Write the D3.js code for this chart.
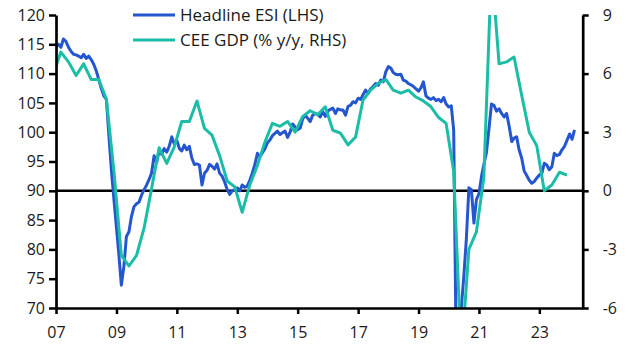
<!DOCTYPE html>
<html><head><meta charset="utf-8">
<script src="https://cdn.jsdelivr.net/npm/d3@7"></script>
<style>
html,body{margin:0;padding:0;background:#fff;}
svg{display:block;font-family:"Open Sans","Noto Sans",sans-serif;}
</style></head>
<body>
<svg id="c" width="628" height="352"></svg>
<script>
// ---- Data ----
// Headline ESI (LHS), monthly from Jan 2007
const esiStart = [2007, 0];
const esi = [
 114.6,115.0,114.5,115.9,115.5,114.5,113.8,113.3,113.2,113.0,112.7,113.3, // 2007
 112.6,113.0,112.4,111.6,110.5,109.0,107.5,106.2,105.6,99.5,93.5,88.6,   // 2008
 83.7,78.8,73.9,77.1,82.2,83.0,85.6,87.3,87.8,88.1,89.3,90.2,            // 2009
 91.0,92.0,93.0,96.0,94.8,96.8,96.2,97.2,96.6,97.6,99.2,98.0,            // 2010
 98.6,97.2,96.8,97.8,97.0,97.6,95.6,94.5,94.6,94.4,91.0,93.0,            // 2011
 93.5,94.5,94.2,93.7,94.6,93.0,92.5,91.5,90.2,89.4,90.0,90.2,            // 2012
 90.5,90.0,91.0,90.6,90.8,91.8,93.0,94.5,96.4,95.8,96.5,97.2,            // 2013
 98.2,98.7,99.4,99.8,100.2,99.6,99.9,100.2,99.1,100.0,101.4,100.9,       // 2014
 100.4,100.7,102.2,102.9,102.4,101.8,102.9,103.2,103.0,102.6,103.5,102.7,// 2015
 103.6,103.9,104.1,103.2,104.0,103.8,103.8,102.9,104.4,104.6,105.2,105.0,// 2016
 105.8,105.6,106.4,107.2,106.6,107.4,107.8,108.3,108.0,108.9,108.6,110.3,// 2017
 111.2,110.9,110.2,109.9,109.8,109.9,108.9,108.7,108.3,108.1,107.8,107.4,// 2018
 107.0,107.6,108.6,106.2,105.8,105.6,105.9,105.4,105.6,105.2,105.9,104.8,// 2019
 104.3,104.5,100.4,62.0,64.0,70.0,75.3,81.7,90.5,90.2,84.5,88.5,         // 2020
 89.5,92.5,94.5,96.5,100.5,104.8,104.6,103.6,104.0,103.2,102.6,103.2,    // 2021
 101.0,98.4,99.0,99.2,97.0,95.6,93.4,92.6,91.8,91.3,91.6,92.2,           // 2022
 92.7,93.0,94.7,94.4,93.6,94.1,96.4,96.0,96.2,97.0,97.6,98.6,            // 2023
 99.7,98.8,100.4                                                          // 2024
];
// CEE GDP (% y/y, RHS), quarterly from Q4 2006
const gdpStart = [2006, 4];
const gdp = [
 6.0,                    // 2006 Q4
 7.1,6.6,5.9,6.5,        // 2007
 5.7,5.7,4.7,1.0,        // 2008
 -3.3,-3.85,-3.3,-1.9,   // 2009
 0.1,2.2,1.4,2.25,       // 2010
 3.55,3.55,4.6,3.2,      // 2011
 2.85,1.8,0.5,0.2,       // 2012
 -1.1,0.3,1.3,2.5,       // 2013
 3.45,3.3,3.55,3.0,      // 2014
 3.8,4.1,3.9,4.3,        // 2015
 3.1,2.95,2.35,2.75,     // 2016
 4.65,5.15,5.5,5.7,      // 2017
 5.15,5.0,5.15,4.8,      // 2018
 4.6,4.3,3.75,3.45,      // 2019
 1.0,-8.5,-3.0,-2.1,     // 2020
 0.7,11.5,6.5,6.6,       // 2021
 6.85,4.9,3.0,2.3,       // 2022
 0.0,0.3,0.95,0.8        // 2023
];
const xTickYears = [2007,2009,2011,2013,2015,2017,2019,2021,2023];
const xTickLabels = ["07","09","11","13","15","17","19","21","23"];
const leftTicks = [70,75,80,85,90,95,100,105,110,115,120];
const rightTicks = [-6,-3,0,3,6,9];
const seriesNames = ["Headline ESI (LHS)","CEE GDP (% y/y, RHS)"];
const colors = ["#2356cf","#1bbda6"];

// ---- Build rows ----
const esiRows = esi.map((v,i)=>({d:new Date(esiStart[0], esiStart[1]+i, 1), v}));
const gdpRows = gdp.map((v,i)=>({d:new Date(gdpStart[0], (gdpStart[1]-1)*3+2+3*i, 1), v}));

const L=56, R=582.7, T=15, B=308;
const svg = d3.select("#c");
const x = d3.scaleTime().domain([new Date(2007,0,1), new Date(2024,5,8)]).range([L,R]);
const yL = d3.scaleLinear().domain([70,120]).range([B,T]);
const yR = d3.scaleLinear().domain([-6,9]).range([B,T]);

svg.append("defs").append("clipPath").attr("id","clip")
  .append("rect").attr("x",L).attr("y",T).attr("width",R-L).attr("height",B-T);

// zero / 90 line
svg.append("line").attr("x1",L).attr("x2",R).attr("y1",yL(90)).attr("y2",yL(90))
  .attr("stroke","#000").attr("stroke-width",2.6);

const g = svg.append("g").attr("clip-path","url(#clip)");
g.append("path").datum(esiRows)
  .attr("d", d3.line().x(d=>x(d.d)).y(d=>yL(d.v)))
  .attr("fill","none").attr("stroke",colors[0]).attr("stroke-width",3).attr("stroke-linejoin","round");
g.append("path").datum(gdpRows)
  .attr("d", d3.line().x(d=>x(d.d)).y(d=>yR(d.v)))
  .attr("fill","none").attr("stroke",colors[1]).attr("stroke-width",3).attr("stroke-linejoin","round");

function styleAxis(sel){
  sel.select(".domain").attr("stroke","#000").attr("stroke-width",2.7);
  sel.selectAll(".tick line").attr("stroke","#000").attr("stroke-width",2.5);
  sel.selectAll(".tick text").attr("fill","#1a1a1a").style("font-size","16px")
     .style("font-family",'"Open Sans","Noto Sans",sans-serif');
}
// left axis
const ax1 = svg.append("g").attr("transform",`translate(${L},0)`)
  .call(d3.axisLeft(yL).tickValues(leftTicks).tickSize(7).tickSizeOuter(0).tickPadding(4));
styleAxis(ax1);
// right axis
const ax2 = svg.append("g").attr("transform",`translate(${R},0)`)
  .call(d3.axisRight(yR).tickValues(rightTicks).tickSize(6).tickSizeOuter(0).tickPadding(14)
    .tickFormat(d=>String(d)));
styleAxis(ax2);
// bottom axis
const ax3 = svg.append("g").attr("transform",`translate(0,${B})`)
  .call(d3.axisBottom(x).tickValues(xTickYears.map(y=>new Date(y,0,1))).tickSize(6).tickSizeOuter(0)
    .tickFormat((d,i)=>xTickLabels[i]));
styleAxis(ax3);
ax3.selectAll(".tick text").attr("y",29.5).attr("dy",0);

// legend
const lg = svg.append("g");
seriesNames.forEach((n,i)=>{
  const yy = 15 + i*25;
  lg.append("line").attr("x1",133).attr("x2",175).attr("y1",yy).attr("y2",yy)
    .attr("stroke",colors[i]).attr("stroke-width",3);
  lg.append("text").attr("x",180).attr("y",yy).attr("dy","0.36em")
    .attr("fill","#1a1a1a").style("font-size","17px").text(n);
});
</script>
</body></html>
